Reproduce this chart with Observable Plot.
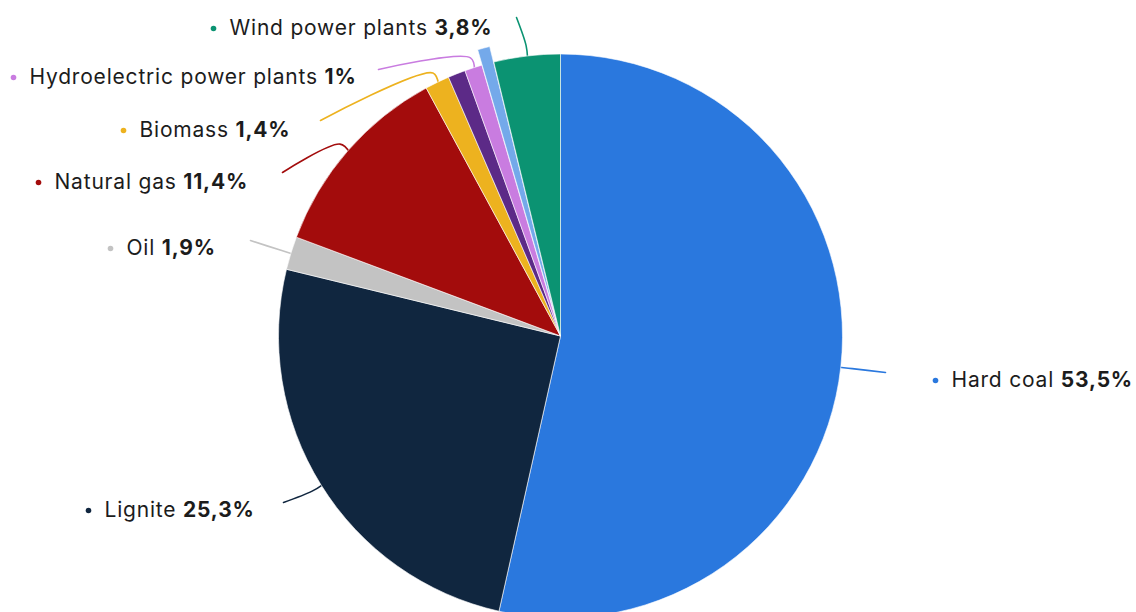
<!DOCTYPE html>
<html>
<head>
<meta charset="utf-8">
<script src="https://cdn.jsdelivr.net/npm/d3@7"></script>
<script src="https://cdn.jsdelivr.net/npm/@observablehq/plot@0.6"></script>
<style>
  html, body { margin: 0; padding: 0; background: #ffffff; }
  #chart { width: 1136px; height: 612px; overflow: hidden; }
  .pielabel text { font-family: Inter, "Open Sans", sans-serif; letter-spacing: 0.8px; }
</style>
</head>
<body>
<div id="chart"></div>
<script>
// ---- data ----
const categories = ["Hard coal", "Lignite", "Oil", "Natural gas", "Biomass", "Other fuels", "Hydroelectric power plants", "Other renewables", "Wind power plants"];
const shares = [53.5, 25.3, 1.9, 11.4, 1.4, 1.0, 1.0, 0.7, 3.8];
const shareLabels = ["53,5%", "25,3%", "1,9%", "11,4%", "1,4%", null, "1%", null, "3,8%"];

// ---- styles / layout ----
const colors = ["#2a78de", "#10263f", "#c3c3c3", "#a30c0c", "#edb21f", "#5c2a87", "#c97ce0", "#74a9ea", "#0b9372"];
const pie = { cx: 560.5, cy: 336, r: 282, explode: { "Other renewables": 16 } };
// label anchor layout: dot position and leader-line end, per labeled category
const labelDotX = { "Hard coal": 935, "Lignite": 88, "Oil": 110, "Natural gas": 38, "Biomass": 123, "Hydroelectric power plants": 13, "Wind power plants": 213 };
const labelY = { "Hard coal": 380, "Lignite": 510, "Oil": 248, "Natural gas": 182, "Biomass": 130, "Hydroelectric power plants": 77, "Wind power plants": 28 };
const leaderEnd = {
  "Hard coal": [885, 372], "Lignite": [283, 502], "Oil": [250, 240], "Natural gas": [282, 172],
  "Biomass": [320, 120], "Hydroelectric power plants": [378, 69], "Wind power plants": [516, 17]
};

const slices = categories.map((name, i) => ({ name, share: shares[i], label: shareLabels[i], color: colors[i] }));
const arcs = d3.pie().sort(null).value(d => d.share).startAngle(0).endAngle(2 * Math.PI)(slices);
arcs.forEach(a => { a.mid = (a.startAngle + a.endAngle) / 2; });

const polar = (a, R) => [pie.cx + R * Math.sin(a), pie.cy - R * Math.cos(a)];

const labeled = arcs.filter(a => a.data.label);
const leaders = [];
for (const a of labeled) {
  const n = a.data.name;
  const [ex, ey] = leaderEnd[n];
  const [bx, by] = polar(a.mid, pie.r + 11);
  const [px, py] = polar(a.mid, pie.r - 2);
  leaders.push({ name: n, color: a.data.color, x: ex, y: ey });
  leaders.push({ name: n, color: a.data.color, x: bx, y: by });
  leaders.push({ name: n, color: a.data.color, x: px, y: py });
}
const labels = labeled.map(a => ({
  name: a.data.name, label: a.data.label, color: a.data.color,
  dx: labelDotX[a.data.name], y: labelY[a.data.name]
}));

// pie mark drawn through the plot's scales
function pieMark(index, scales) {
  const { x, y } = scales;
  const cx = x(pie.cx), cy = y(pie.cy), R = x(pie.cx + pie.r) - x(pie.cx);
  const arcGen = d3.arc().innerRadius(0).outerRadius(R);
  const g = d3.create("svg:g").attr("transform", `translate(${cx},${cy})`);
  for (const a of arcs) {
    const off = pie.explode[a.data.name] || 0;
    g.append("path")
      .attr("d", arcGen(a))
      .attr("fill", a.data.color)
      .attr("stroke", "#ffffff")
      .attr("stroke-width", 0.6)
      .attr("transform", `translate(${off * Math.sin(a.mid)},${-off * Math.cos(a.mid)})`);
  }
  return g.node();
}

const chart = Plot.plot({
  width: 1136,
  height: 612,
  margin: 0,
  x: { domain: [0, 1136], range: [0, 1136], axis: null },
  y: { domain: [0, 612], range: [0, 612], axis: null },
  style: { background: "#ffffff", overflow: "visible" },
  marks: [
    Plot.line(leaders, { x: "x", y: "y", z: "name", stroke: "color", strokeWidth: 1.6, curve: "catmull-rom" }),
    pieMark,
    Plot.dot(labels, { x: "dx", y: "y", r: 2.8, fill: "color", stroke: null }),
    Plot.text(labels, {
      x: d => d.dx + 16, y: "y", text: d => d.name + " ", textAnchor: "start",
      fontSize: 21, fill: "#1c1c1c", className: "pielabel"
    })
  ]
});

// add bold share values after each category name
const texts = chart.querySelectorAll(".pielabel text");
texts.forEach((t, i) => {
  const ts = document.createElementNS("http://www.w3.org/2000/svg", "tspan");
  ts.setAttribute("font-weight", "700");
  ts.textContent = labels[i].label;
  t.appendChild(ts);
  t.setAttribute("xml:space", "preserve");
  t.style.whiteSpace = "pre";
});

document.getElementById("chart").appendChild(chart);
</script>
</body>
</html>
